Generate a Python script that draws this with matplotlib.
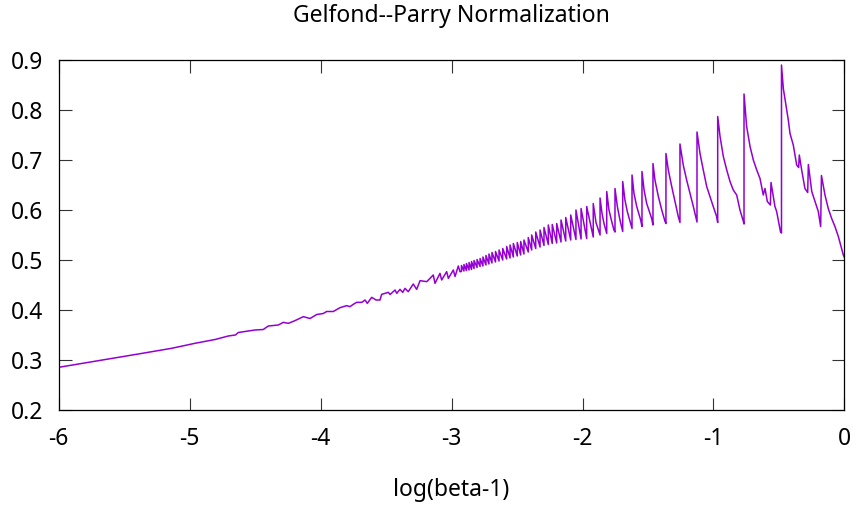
#!/usr/bin/env python3
"""
Gelfond--Parry normalization vs log(beta-1), gnuplot-like look
"""
import matplotlib
matplotlib.use('Agg')
import matplotlib.pyplot as plt

plt.rcParams['font.family'] = ['Noto Sans', 'DejaVu Sans']
plt.rcParams['axes.unicode_minus'] = False

# ---- data ----
# smooth / lightly wiggly part, left side
smooth_x = [-6.000, -5.823, -5.391, -5.136, -4.958, -4.805, -4.704, -4.650, -4.627,
            -4.500, -4.437, -4.398, -4.322, -4.284, -4.246, -4.195, -4.131, -4.080,
            -4.029, -3.979, -3.953, -3.902, -3.851, -3.800, -3.775, -3.750, -3.724,
            -3.685, -3.660, -3.643, -3.609, -3.576, -3.546, -3.533, -3.482, -3.469,
            -3.431, -3.418, -3.393, -3.372, -3.355, -3.330, -3.292, -3.266, -3.240,
            -3.189, -3.139, -3.126, -3.088, -3.075, -3.037, -3.024, -2.986, -2.973,
            -2.948, -2.935]
smooth_y = [0.2853, 0.2930, 0.3120, 0.3234, 0.3334, 0.3410, 0.3480, 0.3500, 0.3550,
            0.3600, 0.3610, 0.3680, 0.3700, 0.3753, 0.3733, 0.3787, 0.3867, 0.3830,
            0.3910, 0.3930, 0.3970, 0.3970, 0.4047, 0.4087, 0.4067, 0.4113, 0.4153,
            0.4153, 0.4200, 0.4133, 0.4253, 0.4200, 0.4200, 0.4313, 0.4353, 0.4310,
            0.4400, 0.4333, 0.4413, 0.4353, 0.4433, 0.4367, 0.4520, 0.4413, 0.4587,
            0.4567, 0.4700, 0.4533, 0.4733, 0.4600, 0.4767, 0.4633, 0.4800, 0.4670,
            0.4880, 0.4766]

# sawtooth jumps: position, value just before, value just after
jump_x = [-2.924, -2.905, -2.886, -2.866, -2.847, -2.828, -2.805, -2.782, -2.760,
          -2.737, -2.714, -2.691, -2.664, -2.637, -2.609, -2.579, -2.553, -2.528,
          -2.498, -2.472, -2.447, -2.414, -2.388, -2.357, -2.324, -2.294, -2.261,
          -2.231, -2.197, -2.164, -2.128, -2.090, -2.050, -2.011, -1.968, -1.918,
          -1.866, -1.815, -1.752, -1.693, -1.622, -1.546, -1.462, -1.363, -1.256,
          -1.126, -0.968, -0.767, -0.481]
jump_low = [0.477, 0.478, 0.479, 0.480, 0.481, 0.483, 0.485, 0.487, 0.488,
            0.490, 0.492, 0.494, 0.496, 0.498, 0.500, 0.502, 0.504, 0.506,
            0.508, 0.510, 0.512, 0.516, 0.520, 0.523, 0.526, 0.529, 0.531,
            0.533, 0.534, 0.536, 0.538, 0.540, 0.541, 0.542, 0.543, 0.546,
            0.550, 0.553, 0.556, 0.557, 0.563, 0.567, 0.570, 0.573, 0.575,
            0.576, 0.575, 0.572, 0.554]
jump_high = [0.489, 0.491, 0.493, 0.495, 0.497, 0.499, 0.501, 0.503, 0.506,
             0.509, 0.512, 0.515, 0.517, 0.520, 0.523, 0.527, 0.530, 0.533,
             0.535, 0.537, 0.540, 0.545, 0.550, 0.556, 0.560, 0.565, 0.570,
             0.571, 0.573, 0.580, 0.585, 0.590, 0.600, 0.603, 0.607, 0.613,
             0.624, 0.637, 0.643, 0.657, 0.670, 0.677, 0.693, 0.713, 0.732,
             0.756, 0.787, 0.832, 0.890]

# points on the decaying parts of the larger teeth
decay_x = [-1.897,
           -1.851, -1.836,
           -1.798, -1.777, -1.760,
           -1.734, -1.714,
           -1.676, -1.658, -1.632,
           -1.607, -1.586, -1.556,
           -1.530, -1.510, -1.490, -1.472,
           -1.447, -1.421, -1.395, -1.370,
           -1.345, -1.319, -1.294, -1.269,
           -1.231, -1.205, -1.179, -1.154, -1.134,
           -1.103, -1.078, -1.052, -1.027, -1.002, -0.976,
           -0.950, -0.925, -0.899, -0.874, -0.849, -0.823, -0.798, -0.775,
           -0.747, -0.721, -0.696, -0.670, -0.645, -0.620, -0.607, -0.589, -0.566,
           -0.561, -0.531, -0.518, -0.489,
           -0.467, -0.447, -0.429, -0.416, -0.391, -0.365, -0.350, -0.345, -0.327,
           -0.302, -0.281, -0.276, -0.250, -0.225, -0.200, -0.182, -0.176, -0.149,
           -0.124, -0.098, -0.073, -0.047, -0.009, 0.000]
decay_y = [0.575,
           0.593, 0.573,
           0.600, 0.577, 0.560,
           0.607, 0.580,
           0.620, 0.597, 0.573,
           0.633, 0.607, 0.580,
           0.640, 0.613, 0.597, 0.583,
           0.660, 0.627, 0.600, 0.577,
           0.680, 0.647, 0.617, 0.587,
           0.690, 0.660, 0.633, 0.607, 0.585,
           0.713, 0.680, 0.647, 0.627, 0.607, 0.587,
           0.747, 0.707, 0.680, 0.657, 0.640, 0.630, 0.600, 0.580,
           0.767, 0.727, 0.700, 0.680, 0.663, 0.630, 0.643, 0.617, 0.610,
           0.655, 0.607, 0.597, 0.557,
           0.843, 0.810, 0.780, 0.753, 0.730, 0.690, 0.685, 0.710, 0.680,
           0.643, 0.635, 0.691, 0.637, 0.617, 0.597, 0.567, 0.669, 0.630,
           0.603, 0.583, 0.567, 0.547, 0.510, 0.505]

# ---- build one polyline ----
pts = [(x, 0, y) for x, y in zip(smooth_x, smooth_y)]
for x, lo, hi in zip(jump_x, jump_low, jump_high):
    pts.append((x, 0, lo))
    pts.append((x, 1, hi))
pts += [(x, 0, y) for x, y in zip(decay_x, decay_y)]
pts.sort(key=lambda p: (p[0], p[1]))
xs = [p[0] for p in pts]
ys = [p[2] for p in pts]

fig = plt.figure(figsize=(8.54, 5.08), dpi=100)
ax = fig.add_axes([58.5 / 854, 98 / 508, 786 / 854, 350 / 508])

ax.plot(xs, ys, color='#9400D3', linewidth=1.1)

ax.set_xlim(-6, 0)
ax.set_ylim(0.2, 0.9)
ax.set_xticks([-6, -5, -4, -3, -2, -1, 0])
ax.set_yticks([0.2, 0.3, 0.4, 0.5, 0.6, 0.7, 0.8, 0.9])
ax.set_yticklabels(['0.2', '0.3', '0.4', '0.5', '0.6', '0.7', '0.8', '0.9'])
ax.tick_params(direction='in', length=9, width=0.8, top=True, right=True,
               labelsize=16.5, color='#333333')
ax.tick_params(axis='x', pad=12)
ax.tick_params(axis='y', pad=11)
for s in ax.spines.values():
    s.set_linewidth(0.9)

ax.set_title('Gelfond--Parry Normalization', fontsize=16.5, pad=27)
ax.set_xlabel('log(beta-1)', fontsize=16.5, labelpad=20)

plt.savefig('out.png', dpi=100)
